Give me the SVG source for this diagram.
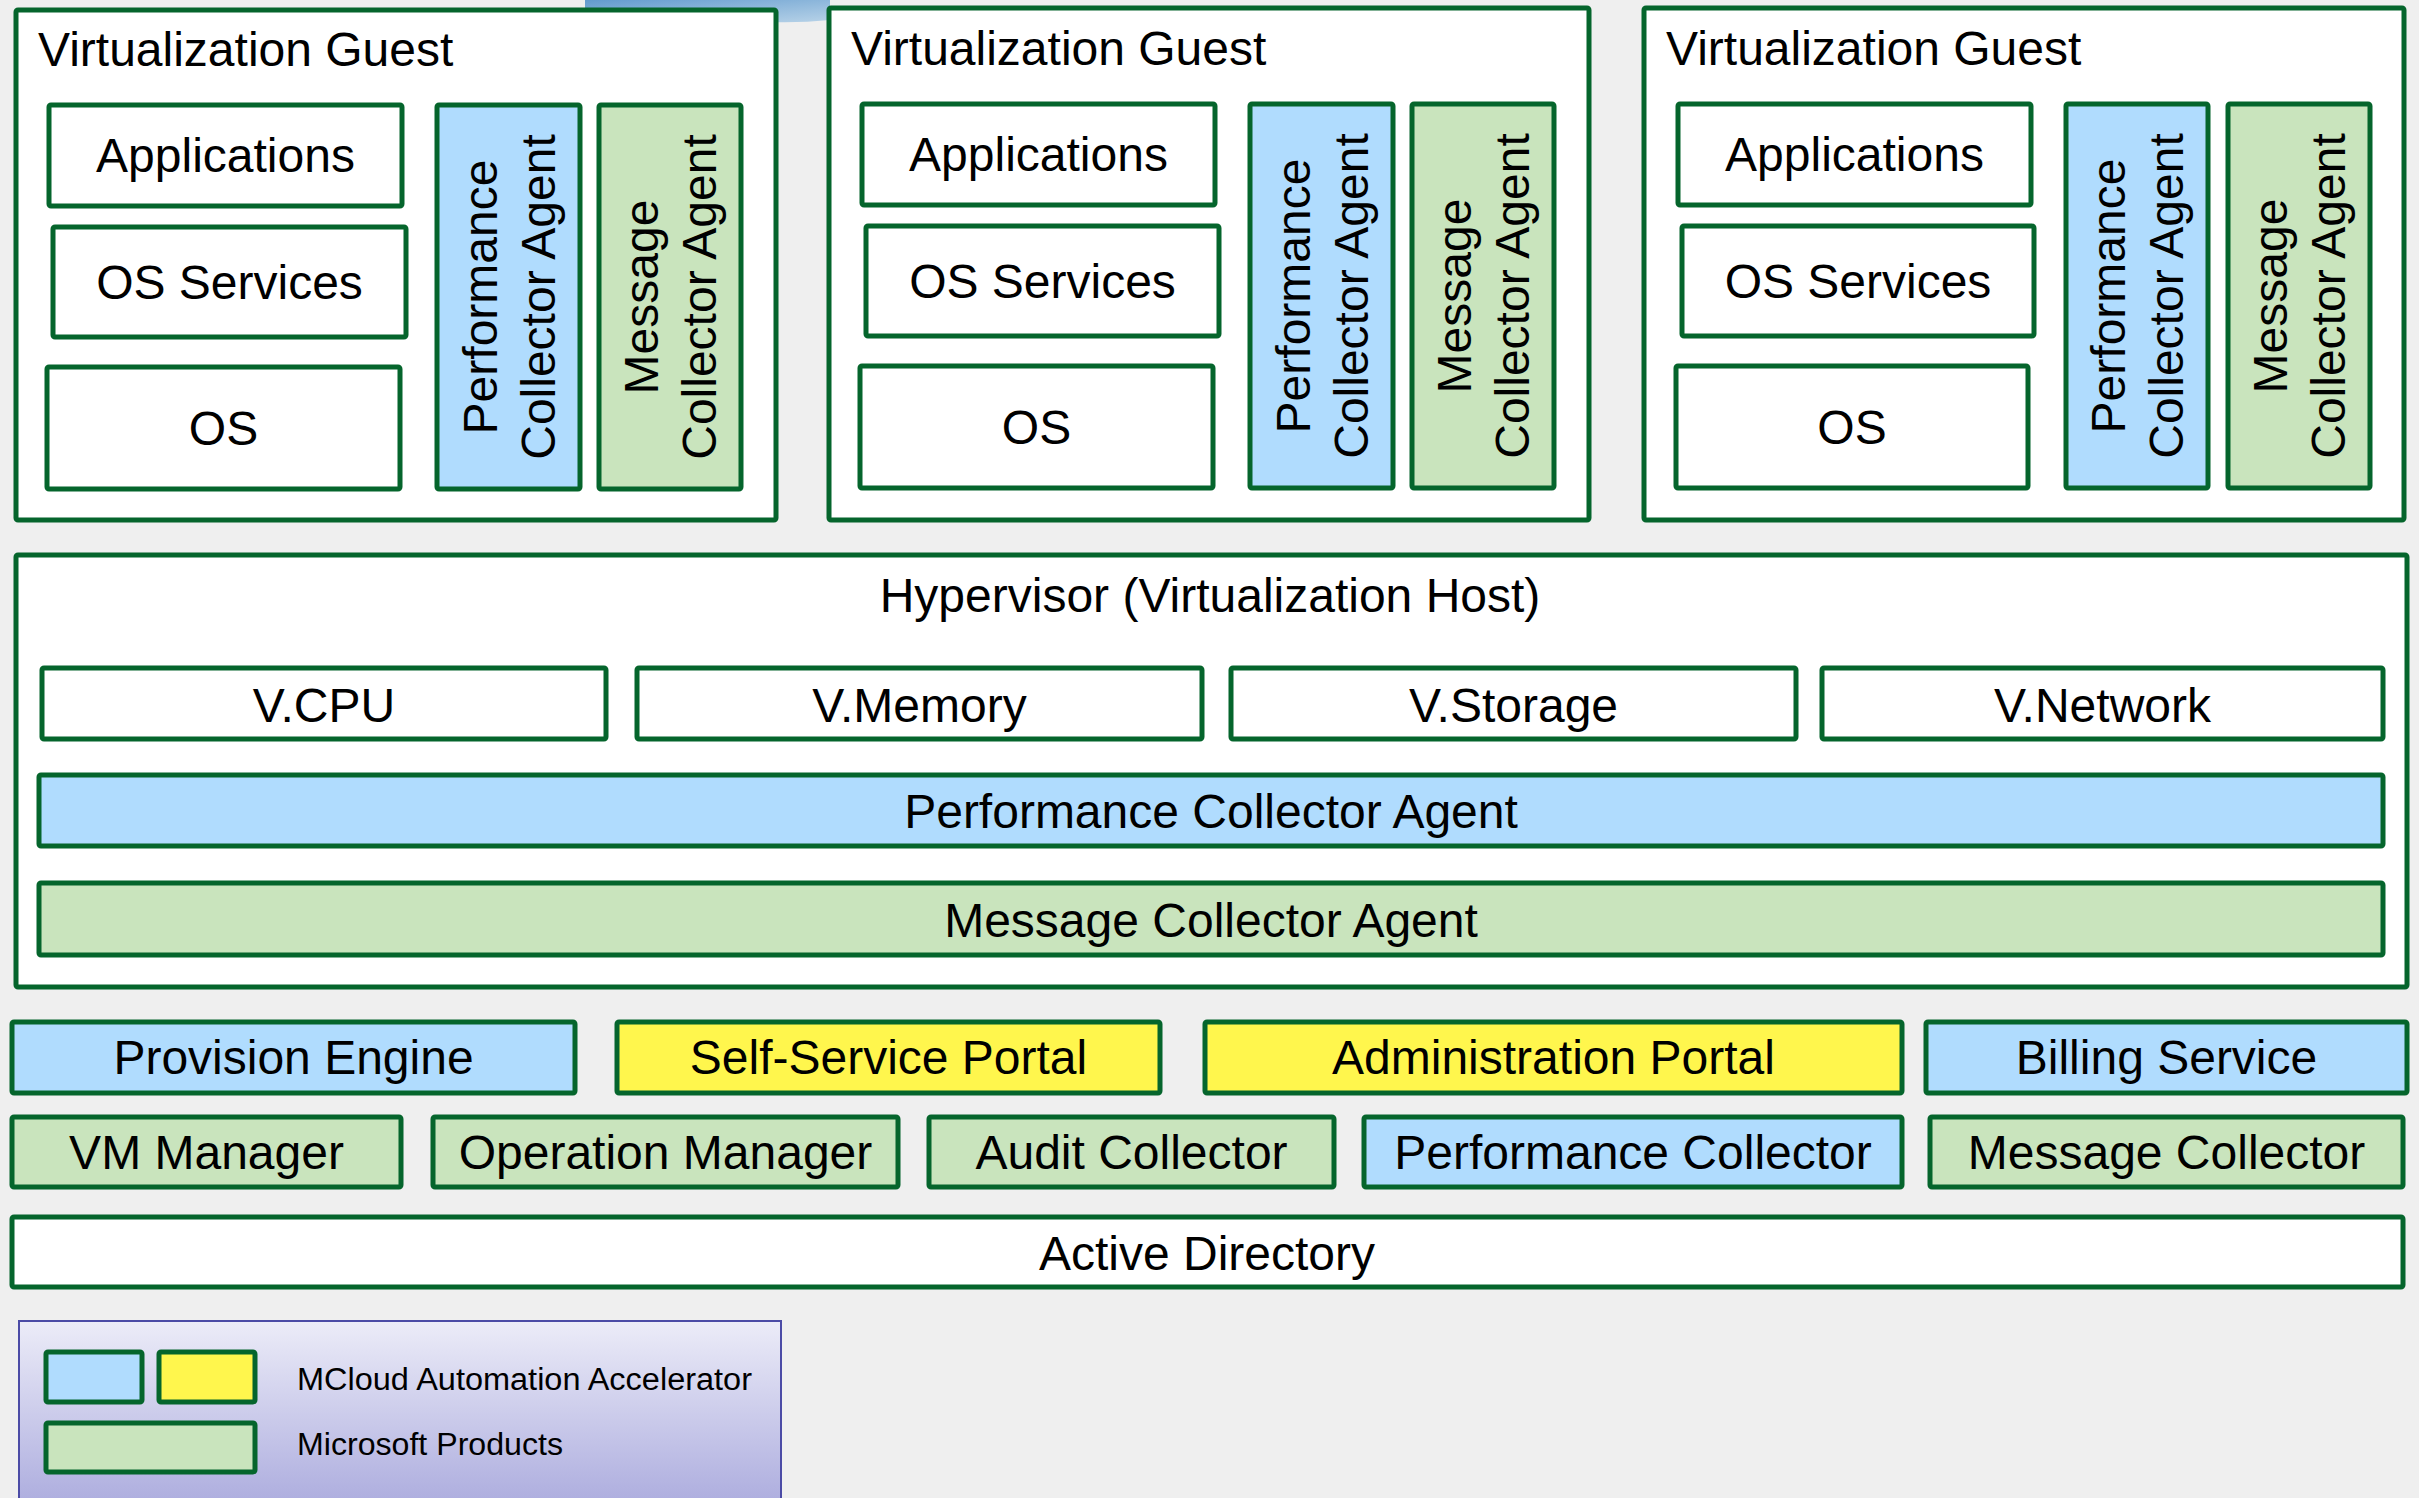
<svg xmlns="http://www.w3.org/2000/svg" width="2419" height="1498" viewBox="0 0 2419 1498">
<style>
.bx{stroke:#05652c;stroke-width:5;}
.w{fill:#ffffff;}
.bl{fill:#b0dcfe;}
.ye{fill:#fff64d;}
.gr{fill:#c9e4bd;}
.t{font-family:"Liberation Sans",Arial,sans-serif;font-size:48px;fill:#000;}
.c{text-anchor:middle;}
.lg{font-family:"Liberation Sans",Arial,sans-serif;font-size:31px;fill:#000;}
</style>
<defs>
<linearGradient id="legGrad" x1="0" y1="0" x2="0" y2="1">
<stop offset="0" stop-color="#ececf8"/>
<stop offset="1" stop-color="#a7a7dc"/>
</linearGradient>
<linearGradient id="swoosh" x1="0" y1="0" x2="1" y2="1">
<stop offset="0" stop-color="#3f86c6"/>
<stop offset="1" stop-color="#a9cbe6"/>
</linearGradient>
</defs>
<rect x="0" y="0" width="2419" height="1498" fill="#efefef"/>
<path d="M585 0 L830 0 L830 20 Q770 26 710 16 Q645 7 585 8 Z" fill="url(#swoosh)" opacity="0.8"/>

<g id="guest1" transform="translate(16,0)">
<rect class="bx w" x="0" y="10" width="760" height="510" rx="2"/>
<text class="t" x="22" y="66">Virtualization Guest</text>
<g id="g1-apps"><rect class="bx w" x="33" y="105" width="353" height="101" rx="2"/><text class="t c" x="209.5" y="172">Applications</text></g>
<g id="g1-ossvc"><rect class="bx w" x="37" y="227" width="353" height="110" rx="2"/><text class="t c" x="213.5" y="299">OS Services</text></g>
<g id="g1-os"><rect class="bx w" x="31" y="367" width="353" height="122" rx="2"/><text class="t c" x="207.5" y="445">OS</text></g>
<g id="g1-perf"><rect class="bx bl" x="421" y="105" width="143" height="384" rx="2"/><text class="t c" transform="translate(492.5,297) rotate(-90)"><tspan x="0" y="-12">Performance</tspan><tspan x="0" y="46">Collector Agent</tspan></text></g>
<g id="g1-msg"><rect class="bx gr" x="583" y="105" width="142" height="384" rx="2"/><text class="t c" transform="translate(654,297) rotate(-90)"><tspan x="0" y="-12">Message</tspan><tspan x="0" y="46">Collector Agent</tspan></text></g>
</g>

<g id="guest2" transform="translate(829,0)">
<rect class="bx w" x="0" y="8" width="760" height="512" rx="2"/>
<text class="t" x="22" y="65">Virtualization Guest</text>
<g id="g2-apps"><rect class="bx w" x="33" y="104" width="353" height="101" rx="2"/><text class="t c" x="209.5" y="171">Applications</text></g>
<g id="g2-ossvc"><rect class="bx w" x="37" y="226" width="353" height="110" rx="2"/><text class="t c" x="213.5" y="298">OS Services</text></g>
<g id="g2-os"><rect class="bx w" x="31" y="366" width="353" height="122" rx="2"/><text class="t c" x="207.5" y="444">OS</text></g>
<g id="g2-perf"><rect class="bx bl" x="421" y="104" width="143" height="384" rx="2"/><text class="t c" transform="translate(492.5,296) rotate(-90)"><tspan x="0" y="-12">Performance</tspan><tspan x="0" y="46">Collector Agent</tspan></text></g>
<g id="g2-msg"><rect class="bx gr" x="583" y="104" width="142" height="384" rx="2"/><text class="t c" transform="translate(654,296) rotate(-90)"><tspan x="0" y="-12">Message</tspan><tspan x="0" y="46">Collector Agent</tspan></text></g>
</g>

<g id="guest3" transform="translate(1644,0)">
<rect class="bx w" x="0" y="8" width="760" height="512" rx="2"/>
<text class="t" x="22" y="65">Virtualization Guest</text>
<g id="g3-apps"><rect class="bx w" x="34" y="104" width="353" height="101" rx="2"/><text class="t c" x="210.5" y="171">Applications</text></g>
<g id="g3-ossvc"><rect class="bx w" x="38" y="226" width="352" height="110" rx="2"/><text class="t c" x="214" y="298">OS Services</text></g>
<g id="g3-os"><rect class="bx w" x="32" y="366" width="352" height="122" rx="2"/><text class="t c" x="208" y="444">OS</text></g>
<g id="g3-perf"><rect class="bx bl" x="422" y="104" width="142" height="384" rx="2"/><text class="t c" transform="translate(493,296) rotate(-90)"><tspan x="0" y="-12">Performance</tspan><tspan x="0" y="46">Collector Agent</tspan></text></g>
<g id="g3-msg"><rect class="bx gr" x="584" y="104" width="142" height="384" rx="2"/><text class="t c" transform="translate(655,296) rotate(-90)"><tspan x="0" y="-12">Message</tspan><tspan x="0" y="46">Collector Agent</tspan></text></g>
</g>

<g id="hypervisor">
<rect class="bx w" x="16" y="555" width="2391" height="432" rx="2"/>
<text class="t c" x="1210" y="612">Hypervisor (Virtualization Host)</text>
<g id="vcpu"><rect class="bx w" x="42" y="668" width="564" height="71" rx="2"/><text class="t c" x="324" y="722">V.CPU</text></g>
<g id="vmemory"><rect class="bx w" x="637" y="668" width="565" height="71" rx="2"/><text class="t c" x="919.5" y="722">V.Memory</text></g>
<g id="vstorage"><rect class="bx w" x="1231" y="668" width="565" height="71" rx="2"/><text class="t c" x="1513.5" y="722">V.Storage</text></g>
<g id="vnetwork"><rect class="bx w" x="1822" y="668" width="561" height="71" rx="2"/><text class="t c" x="2102.5" y="722">V.Network</text></g>
<g id="hv-perf"><rect class="bx bl" x="39" y="775" width="2344" height="71" rx="2"/><text class="t c" x="1211" y="828">Performance Collector Agent</text></g>
<g id="hv-msg"><rect class="bx gr" x="39" y="883" width="2344" height="72" rx="2"/><text class="t c" x="1211" y="937">Message Collector Agent</text></g>
</g>

<g id="provision-engine"><rect class="bx bl" x="12" y="1022" width="563" height="71" rx="2"/><text class="t c" x="293.5" y="1074">Provision Engine</text></g>
<g id="self-service-portal"><rect class="bx ye" x="617" y="1022" width="543" height="71" rx="2"/><text class="t c" x="888.5" y="1074">Self-Service Portal</text></g>
<g id="administration-portal"><rect class="bx ye" x="1205" y="1022" width="697" height="71" rx="2"/><text class="t c" x="1553.5" y="1074">Administration Portal</text></g>
<g id="billing-service"><rect class="bx bl" x="1926" y="1022" width="481" height="71" rx="2"/><text class="t c" x="2166.5" y="1074">Billing Service</text></g>

<g id="vm-manager"><rect class="bx gr" x="12" y="1117" width="389" height="70" rx="2"/><text class="t c" x="206.5" y="1169">VM Manager</text></g>
<g id="operation-manager"><rect class="bx gr" x="433" y="1117" width="465" height="70" rx="2"/><text class="t c" x="665.5" y="1169">Operation Manager</text></g>
<g id="audit-collector"><rect class="bx gr" x="929" y="1117" width="405" height="70" rx="2"/><text class="t c" x="1131.5" y="1169">Audit Collector</text></g>
<g id="performance-collector"><rect class="bx bl" x="1364" y="1117" width="538" height="70" rx="2"/><text class="t c" x="1633" y="1169">Performance Collector</text></g>
<g id="message-collector"><rect class="bx gr" x="1930" y="1117" width="473" height="70" rx="2"/><text class="t c" x="2166.5" y="1169">Message Collector</text></g>

<g id="active-directory"><rect class="bx w" x="12" y="1217" width="2391" height="70" rx="2"/><text class="t c" x="1207" y="1270">Active Directory</text></g>

<g id="legend">
<rect x="19" y="1321" width="762" height="200" fill="url(#legGrad)" stroke="#4b4ba6" stroke-width="2"/>
<rect class="bx bl" x="46" y="1352" width="96" height="50" rx="2"/>
<rect class="bx ye" x="159" y="1352" width="96" height="50" rx="2"/>
<rect class="bx gr" x="46" y="1423" width="209" height="49" rx="2"/>
<text class="lg" x="297" y="1390" textLength="455" lengthAdjust="spacingAndGlyphs">MCloud Automation Accelerator</text>
<text class="lg" x="297" y="1455" textLength="266" lengthAdjust="spacingAndGlyphs">Microsoft Products</text>
</g>
<g id="connectors"/>
</svg>
